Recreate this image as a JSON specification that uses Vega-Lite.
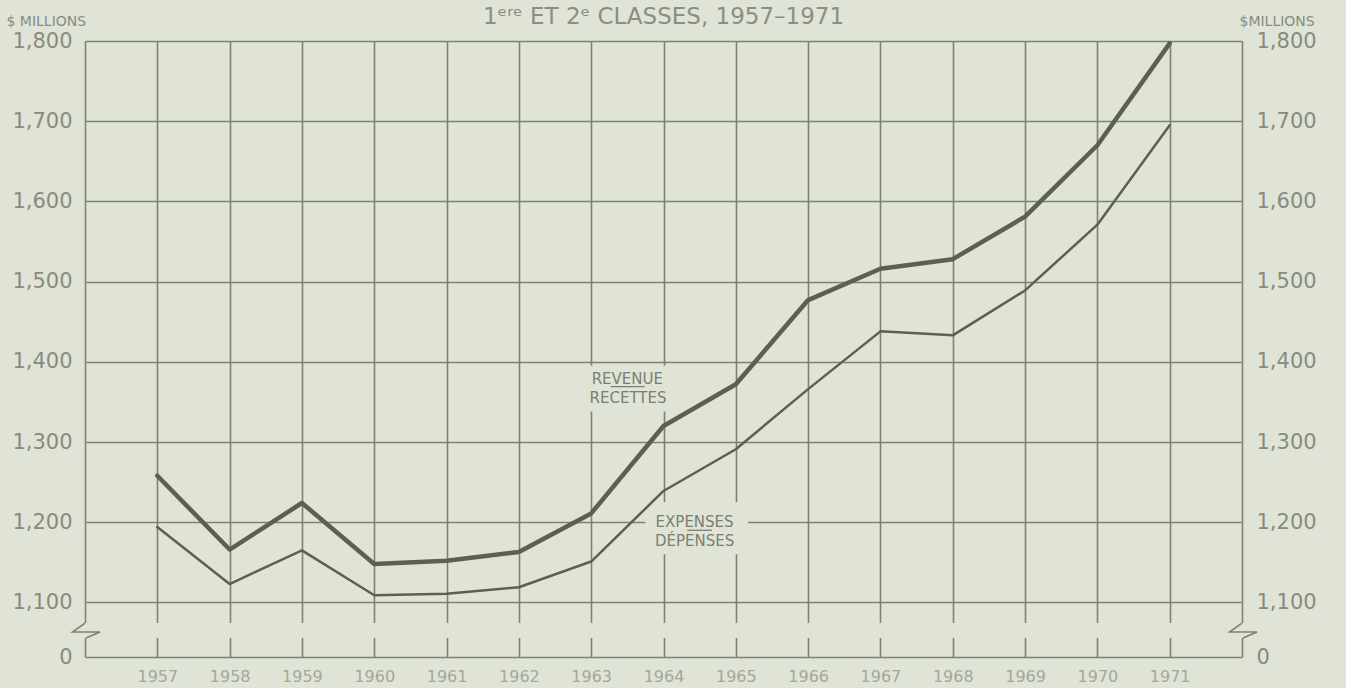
{
  "$schema": "https://vega.github.io/schema/vega-lite/v6.json",
  "autosize": "none",
  "width": 1157,
  "height": 616,
  "padding": {"left": 85, "top": 41, "right": 104, "bottom": 31},
  "background": "#dfe4d6",
  "config": {
    "view": {"stroke": null},
    "font": "DejaVu Sans"
  },
  "title": {
    "text": "1ᵉʳᵉ ET 2ᵉ CLASSES, 1957–1971",
    "font": "DejaVu Sans",
    "fontSize": 23,
    "fontWeight": "normal",
    "color": "#8a8f82",
    "anchor": "middle",
    "frame": "group",
    "offset": -15
  },
  "datasets": {
    "series": [
      {"year": 1957, "series": "Revenue", "value": 1258},
      {"year": 1958, "series": "Revenue", "value": 1166},
      {"year": 1959, "series": "Revenue", "value": 1224},
      {"year": 1960, "series": "Revenue", "value": 1148},
      {"year": 1961, "series": "Revenue", "value": 1152},
      {"year": 1962, "series": "Revenue", "value": 1163},
      {"year": 1963, "series": "Revenue", "value": 1211},
      {"year": 1964, "series": "Revenue", "value": 1320},
      {"year": 1965, "series": "Revenue", "value": 1372},
      {"year": 1966, "series": "Revenue", "value": 1477},
      {"year": 1967, "series": "Revenue", "value": 1516},
      {"year": 1968, "series": "Revenue", "value": 1528},
      {"year": 1969, "series": "Revenue", "value": 1581},
      {"year": 1970, "series": "Revenue", "value": 1670},
      {"year": 1971, "series": "Revenue", "value": 1797},
      {"year": 1957, "series": "Expenses", "value": 1194},
      {"year": 1958, "series": "Expenses", "value": 1123},
      {"year": 1959, "series": "Expenses", "value": 1165},
      {"year": 1960, "series": "Expenses", "value": 1109},
      {"year": 1961, "series": "Expenses", "value": 1111},
      {"year": 1962, "series": "Expenses", "value": 1119},
      {"year": 1963, "series": "Expenses", "value": 1151},
      {"year": 1964, "series": "Expenses", "value": 1239},
      {"year": 1965, "series": "Expenses", "value": 1291},
      {"year": 1966, "series": "Expenses", "value": 1366},
      {"year": 1967, "series": "Expenses", "value": 1438},
      {"year": 1968, "series": "Expenses", "value": 1433},
      {"year": 1969, "series": "Expenses", "value": 1489},
      {"year": 1970, "series": "Expenses", "value": 1571},
      {"year": 1971, "series": "Expenses", "value": 1695}
    ],
    "knockouts": [
      {"part": "revenue label", "year": 1962.92, "year_end": 1964.11, "value": 1338, "value_end": 1395},
      {"part": "expenses label", "year": 1963.75, "year_end": 1965.17, "value": 1160, "value_end": 1225},
      {"part": "axis break", "year": 1955.95, "year_end": 1972.05, "value": 1055.7, "value_end": 1074.4}
    ],
    "labels": [
      {"label": "REVENUE", "year": 1963.5, "value": 1379},
      {"label": "RECETTES", "year": 1963.51, "value": 1355},
      {"label": "EXPENSES", "year": 1964.43, "value": 1200},
      {"label": "DÉPENSES", "year": 1964.43, "value": 1177}
    ],
    "underlines": [
      {"year": 1963.27, "year_end": 1963.74, "value": 1369},
      {"year": 1964.33, "year_end": 1964.67, "value": 1190}
    ],
    "breaks": [
      {"year": 1956, "value": 1065},
      {"year": 1972, "value": 1065}
    ]
  },
  "resolve": {"axis": {"y": "independent"}},
  "encoding": {
    "x": {
      "field": "year", "type": "quantitative",
      "scale": {"domain": [1956, 1972], "nice": false, "zero": false},
      "axis": {
        "values": [1956, 1957, 1958, 1959, 1960, 1961, 1962, 1963, 1964, 1965, 1966, 1967, 1968, 1969, 1970, 1971, 1972],
        "format": "d",
        "labelExpr": "(datum.value < 1957 || datum.value > 1971) ? '' : datum.label",
        "labelFont": "DejaVu Sans",
        "labelFontSize": 16,
        "labelColor": "#a3a89a",
        "labelPadding": 11,
        "ticks": false,
        "domain": false,
        "grid": true,
        "gridColor": "#7d8273",
        "gridWidth": 1.6,
        "title": null
      }
    }
  },
  "layer": [
    {
      "data": {"name": "knockouts"},
      "mark": {"type": "rect", "fill": "#dfe4d6", "strokeWidth": 0, "clip": false},
      "encoding": {
        "x2": {"field": "year_end"},
        "y": {
          "field": "value", "type": "quantitative",
          "scale": {"domain": [1032, 1800], "nice": false, "zero": false},
          "axis": {
            "orient": "right",
            "values": [1032, 1100, 1200, 1300, 1400, 1500, 1600, 1700, 1800],
            "labelExpr": "datum.value < 1050 ? '0' : format(datum.value, ',')",
            "labelFont": "DejaVu Sans",
            "labelFontSize": 21,
            "labelColor": "#878c7f",
            "labelPadding": 14,
            "ticks": false,
            "domain": false,
            "grid": false,
            "title": "$MILLIONS",
            "titleFont": "DejaVu Sans",
            "titleFontSize": 14,
            "titleFontWeight": "normal",
            "titleColor": "#878c7f",
            "titleAngle": 0,
            "titleAlign": "left",
            "titleBaseline": "alphabetic",
            "titleX": -3,
            "titleY": -16
          }
        },
        "y2": {"field": "value_end"}
      }
    },
    {
      "data": {"name": "series"},
      "mark": {"type": "line", "strokeCap": "round", "strokeJoin": "round"},
      "encoding": {
        "y": {
          "field": "value", "type": "quantitative",
          "scale": {"domain": [1032, 1800], "nice": false, "zero": false},
          "axis": {
            "orient": "left",
            "values": [1032, 1100, 1200, 1300, 1400, 1500, 1600, 1700, 1800],
            "labelExpr": "datum.value < 1050 ? '0' : format(datum.value, ',')",
            "labelFont": "DejaVu Sans",
            "labelFontSize": 21,
            "labelColor": "#878c7f",
            "labelPadding": 13,
            "ticks": false,
            "domain": false,
            "grid": true,
            "gridColor": "#7d8273",
            "gridWidth": 1.6,
            "title": "$ MILLIONS",
            "titleFont": "DejaVu Sans",
            "titleFontSize": 14,
            "titleFontWeight": "normal",
            "titleColor": "#878c7f",
            "titleAngle": 0,
            "titleAlign": "left",
            "titleBaseline": "alphabetic",
            "titleX": -79,
            "titleY": -16
          }
        },
        "detail": {"field": "series"},
        "color": {"value": "#5b6052"},
        "strokeWidth": {
          "field": "series", "type": "nominal",
          "scale": {"domain": ["Revenue", "Expenses"], "range": [4.5, 2.5]},
          "legend": null
        }
      }
    },
    {
      "data": {"name": "labels"},
      "mark": {"type": "text", "font": "DejaVu Sans", "fontSize": 15, "color": "#7a7f72", "align": "center", "baseline": "middle"},
      "encoding": {
        "y": {"field": "value", "type": "quantitative", "axis": null},
        "text": {"field": "label"}
      }
    },
    {
      "data": {"name": "underlines"},
      "mark": {"type": "rule", "color": "#7a7f72", "strokeWidth": 1.3},
      "encoding": {
        "x2": {"field": "year_end"},
        "y": {"field": "value", "type": "quantitative", "axis": null}
      }
    },
    {
      "data": {"name": "breaks"},
      "mark": {
        "type": "point",
        "shape": "M0,-0.5L-0.833,0.1L1,0.1L0.067,0.5",
        "size": 900,
        "filled": false,
        "stroke": "#7d8273",
        "strokeWidth": 1.6,
        "opacity": 1,
        "clip": false
      },
      "encoding": {
        "y": {"field": "value", "type": "quantitative", "axis": null}
      }
    }
  ]
}
